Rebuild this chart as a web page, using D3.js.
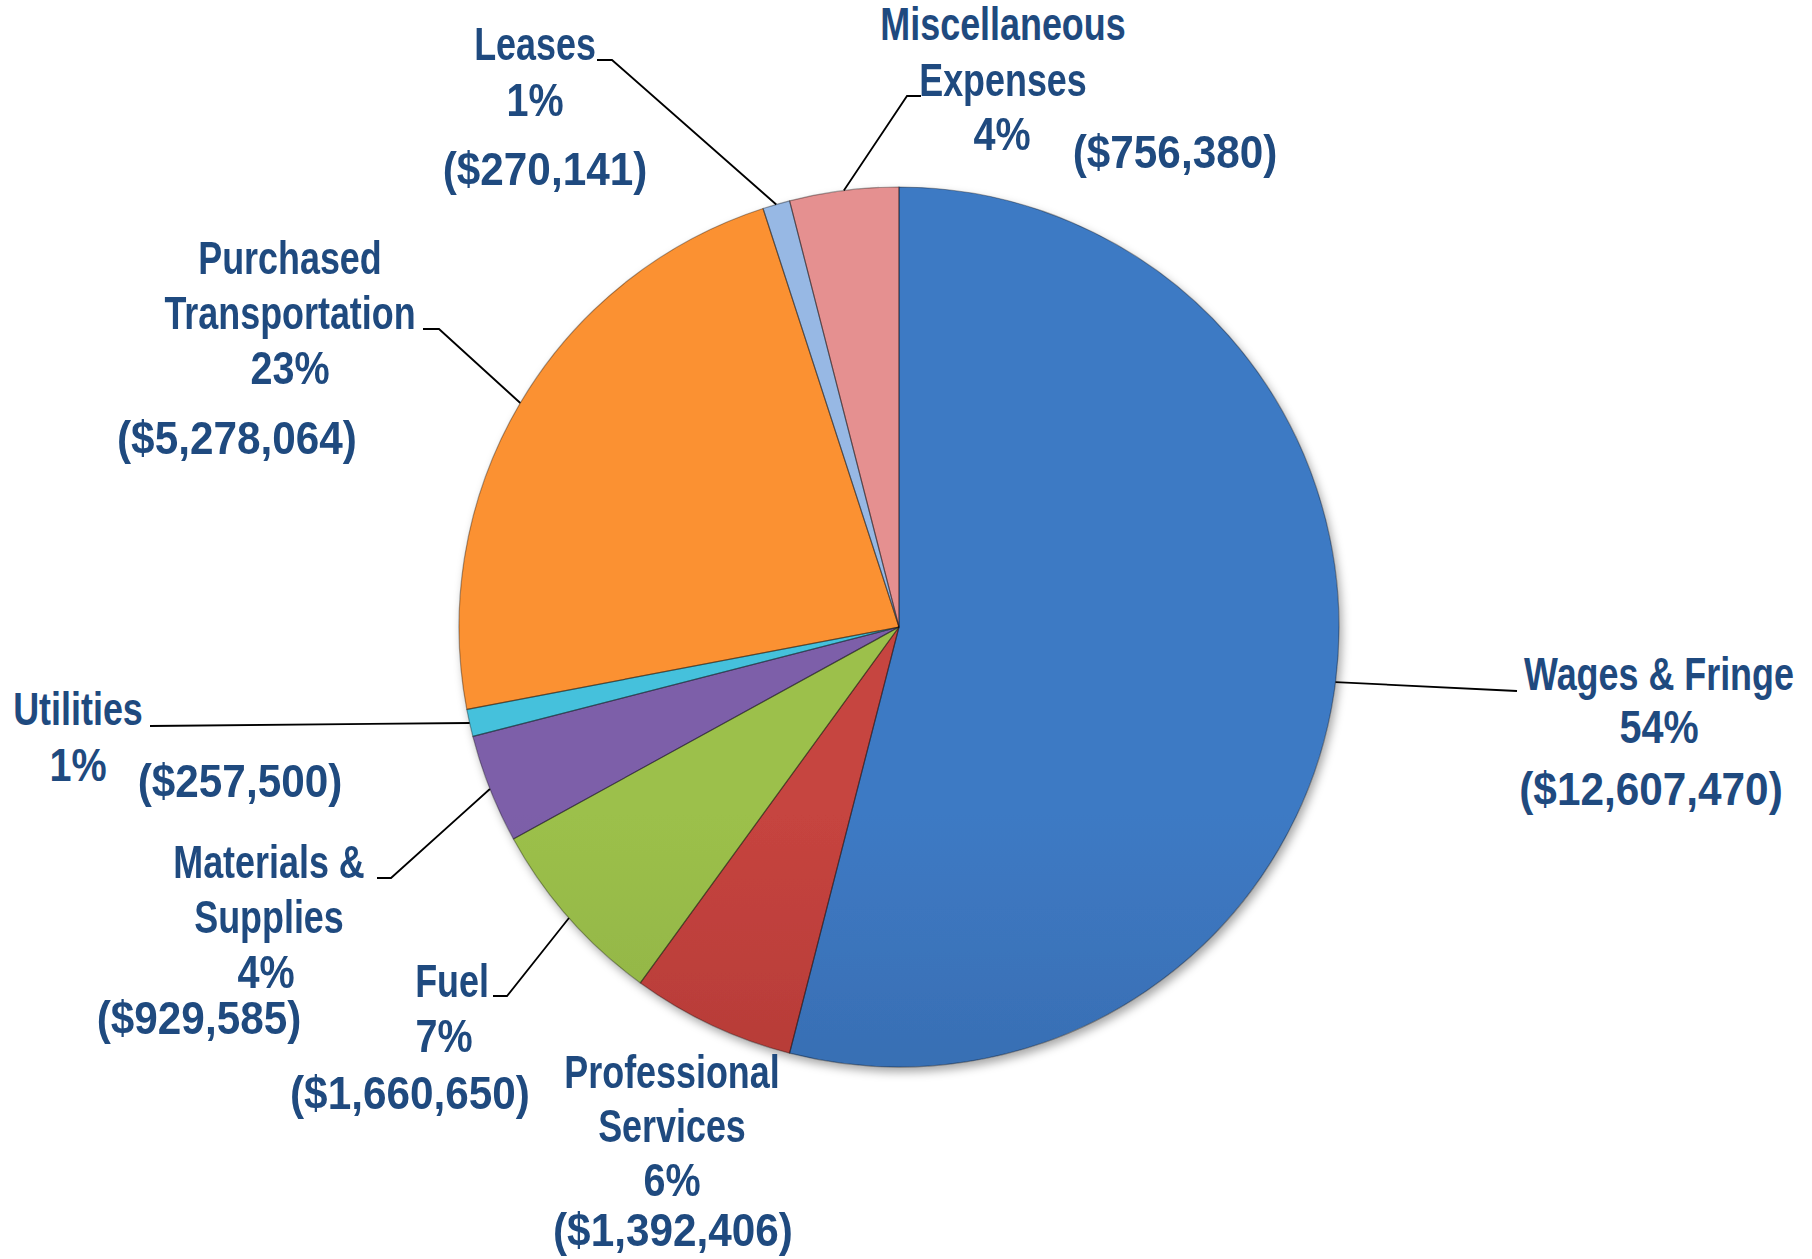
<!DOCTYPE html>
<html>
<head>
<meta charset="utf-8">
<script src="https://cdn.jsdelivr.net/npm/d3@7"></script>
<style>
  html, body { margin: 0; padding: 0; background: #fff; }
  svg { display: block; }
  .lbl { font-family: "Liberation Sans", Arial, sans-serif; font-weight: bold; font-size: 46px; fill: #1F4A7F; }
</style>
</head>
<body>
<svg></svg>
<script>
// chart data
let categories = ['Wages & Fringe', 'Professional Services', 'Fuel', 'Materials & Supplies',
                  'Utilities', 'Purchased Transportation', 'Leases', 'Miscellaneous Expenses']
let nameLines = [['Wages & Fringe'], ['Professional', 'Services'], ['Fuel'], ['Materials &', 'Supplies'],
                 ['Utilities'], ['Purchased', 'Transportation'], ['Leases'], ['Miscellaneous', 'Expenses']]
let percents = [54, 6, 7, 4, 1, 23, 1, 4]
let amounts = [12607470, 1392406, 1660650, 929585, 257500, 5278064, 270141, 756380]

let topColors    = ['#3E7AC4', '#C6443F', '#9CC04B', '#7D5FA9', '#44C1DC', '#FB9132', '#97B8E4', '#E59090']
let bottomColors = ['#2A538C', '#912826', '#759335', '#594083', '#2787A2', '#C6671C', '#7393C0', '#BE7676']

let width = 1812
let height = 1259
let cx = 899
let cy = 627
let radius = 440
// condensed look for the label font: names, percent, amount lines
let squeezeName = 0.78
let squeezePct = 0.86
let squeezeAmt = 0.92

// label placement: [x, y] per text line (centre, baseline), leader = elbow points toward label
let labelLayout = [
    {lines: [[1659, 690], [1659, 743], [1651, 805]], leader: [[1517, 691]]},
    {lines: [[672, 1088], [672, 1142], [672, 1196], [673, 1246]], leader: null},
    {lines: [[452, 997], [444, 1052], [410, 1109]], leader: [[507, 996], [493, 996]]},
    {lines: [[269, 878], [269, 933], [266, 988], [199, 1034]], leader: [[391, 878], [377, 878]]},
    {lines: [[78, 725], [78, 781], [240, 797]], leader: [[150, 726]]},
    {lines: [[290, 274], [290, 329], [290, 384], [237, 454]], leader: [[439, 329], [423, 329]]},
    {lines: [[535, 60], [535, 116], [545, 185]], leader: [[612, 60], [597, 60]]},
    {lines: [[1003, 40], [1003, 96], [1002, 150], [1175, 168]], leader: [[907, 96], [921, 96]]}
]

let svg = d3.select('svg')
    .attr('width', width)
    .attr('height', height)

let defs = svg.append('defs')

let shadow = defs.append('filter')
    .attr('id', 'shadow')
    .attr('x', '-10%').attr('y', '-10%')
    .attr('width', '120%').attr('height', '120%')
shadow.append('feDropShadow')
    .attr('dx', 3).attr('dy', 5)
    .attr('stdDeviation', 5)
    .attr('flood-color', '#000')
    .attr('flood-opacity', 0.35)

categories.forEach((c, i) => {
    let g = defs.append('linearGradient')
        .attr('id', 'grad' + i)
        .attr('gradientUnits', 'userSpaceOnUse')
        .attr('x1', 0).attr('y1', cy - radius)
        .attr('x2', 0).attr('y2', cy + radius)
    g.append('stop').attr('offset', '0%').attr('stop-color', topColors[i])
    g.append('stop').attr('offset', '100%').attr('stop-color', bottomColors[i])
})

let pie = d3.pie()
    .sort(null)
    .value((d) => d)

let arcs = pie(percents)

let arc = d3.arc()
    .innerRadius(0)
    .outerRadius(radius)

let edgeArc = d3.arc()
    .innerRadius(radius)
    .outerRadius(radius)

arcs.forEach((d, i) => {
    defs.append('clipPath')
        .attr('id', 'clip' + i)
        .append('path')
        .attr('d', arc(d))
        .attr('transform', 'translate(' + cx + ',' + cy + ')')
})

let pieGroup = svg.append('g')
    .attr('filter', 'url(#shadow)')

pieGroup.selectAll('path.slice')
    .data(arcs)
    .enter()
    .append('path')
    .attr('class', 'slice')
    .attr('transform', 'translate(' + cx + ',' + cy + ')')
    .attr('d', arc)
    .attr('fill', (d, i) => 'url(#grad' + i + ')')

// bevel highlight along the edges of each slice
svg.selectAll('path.bevel')
    .data(arcs)
    .enter()
    .append('path')
    .attr('class', 'bevel')
    .attr('transform', 'translate(' + cx + ',' + cy + ')')
    .attr('d', arc)
    .attr('clip-path', (d, i) => 'url(#clip' + i + ')')
    .attr('fill', 'none')
    .attr('stroke', '#fff')
    .attr('stroke-opacity', 0.3)
    .attr('stroke-width', 12)
    .attr('stroke-linejoin', 'round')

svg.selectAll('path.edge')
    .data(arcs)
    .enter()
    .append('path')
    .attr('class', 'edge')
    .attr('transform', 'translate(' + cx + ',' + cy + ')')
    .attr('d', arc)
    .attr('fill', 'none')
    .attr('stroke', '#000')
    .attr('stroke-opacity', 0.35)
    .attr('stroke-width', 1.2)

// leader lines
arcs.forEach((d, i) => {
    let lay = labelLayout[i]
    if (!lay.leader) return
    let p = edgeArc.centroid(d)
    let pts = [[cx + p[0], cy + p[1]]].concat(lay.leader)
    svg.append('path')
        .attr('d', d3.line()(pts))
        .attr('fill', 'none')
        .attr('stroke', '#000')
        .attr('stroke-width', 1.8)
})

// labels
let fmt = d3.format(',')
categories.forEach((c, i) => {
    let nNames = nameLines[i].length
    let texts = nameLines[i].concat([percents[i] + '%', '($' + fmt(amounts[i]) + ')'])
    texts.forEach((t, j) => {
        let pos = labelLayout[i].lines[j]
        let sx = j < nNames ? squeezeName : (j === nNames ? squeezePct : squeezeAmt)
        svg.append('text')
            .attr('class', 'lbl')
            .attr('transform', 'translate(' + pos[0] + ',' + pos[1] + ') scale(' + sx + ',1)')
            .attr('text-anchor', 'middle')
            .text(t)
    })
})
</script>
</body>
</html>
